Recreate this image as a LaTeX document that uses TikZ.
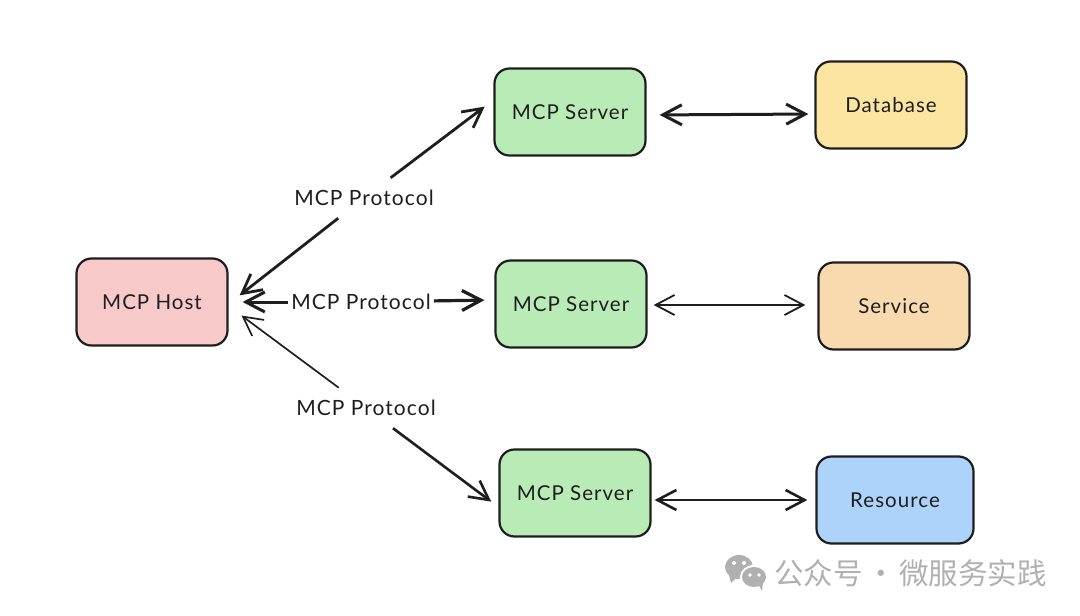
\documentclass[tikz,border=0pt]{standalone}
\usepackage{fontspec}
\setmainfont{Lato}[LetterSpace=5]
\newfontfamily\cjk{Noto Sans CJK SC}
\usetikzlibrary{arrows.meta}
\definecolor{inkblack}{HTML}{1E1E1E}
\definecolor{hostred}{HTML}{F8C9C9}
\definecolor{servergreen}{HTML}{B9EBB7}
\definecolor{dbyellow}{HTML}{FBE5A0}
\definecolor{svcorange}{HTML}{F9D9AE}
\definecolor{resblue}{HTML}{ADD3FB}
\definecolor{markgray}{HTML}{B0B0B0}
\tikzset{
	box/.style={draw=inkblack, line width=2.2pt, rounded corners=15pt, minimum width=151pt, minimum height=87pt, font=\fontsize{20.5}{24}\selectfont, text=inkblack},
	proto/.style={inner xsep=3pt, minimum height=40pt, font=\fontsize{21}{24}\selectfont, text=inkblack},
	link/.style={draw=inkblack, line width=#1, {Straight Barb[length=19pt,width=20pt]}-{Straight Barb[length=19pt,width=20pt]}},
	halflink/.style={draw=inkblack, line width=#1, -{Straight Barb[length=19pt,width=20pt]}}
}
\begin{document}
\begin{tikzpicture}[x=1pt, y=-1pt]
	\useasboundingbox (0,0) rectangle (1080,616);

	\node[box, fill=hostred] (host) at (152,302) {MCP Host};
	\node[box, fill=servergreen] (server1) at (570,112) {MCP Server};
	\node[box, fill=servergreen] (server2) at (571,304) {MCP Server};
	\node[box, fill=servergreen] (server3) at (575,493) {MCP Server};
	\node[box, fill=dbyellow] (database) at (891,105) {Database};
	\node[box, fill=svcorange] (service) at (894,306) {Service};
	\node[box, fill=resblue, minimum width=157pt] (resource) at (895,500) {Resource};

	\node[proto] (proto1) at (364,198) {MCP Protocol};
	\node[proto] (proto2) at (361,302) {MCP Protocol};
	\node[proto] (proto3) at (366,408) {MCP Protocol};

	\draw[halflink=2.8pt, shorten >=14pt] (proto1) -- ([yshift=-2pt]host.east);
	\draw[halflink=2.8pt, shorten >=11pt] (proto1) -- ([yshift=12pt]server1.west);
	\draw[halflink=3pt, shorten >=14pt] (proto2) -- (host.east);
	\draw[halflink=3.2pt, shorten >=10pt] (proto2) -- ([yshift=4pt]server2.west);
	\draw[halflink=1.7pt, shorten >=16pt] (proto3) -- ([yshift=-4pt]host.east);
	\draw[halflink=2.6pt, shorten >=9pt] (proto3) -- ([yshift=-14pt]server3.west);

	\draw[link=3pt, shorten <=13pt, shorten >=6pt] ([yshift=-3pt]server1.east) -- ([yshift=-9pt]database.west);
	\draw[link=1.8pt, shorten <=6pt, shorten >=12pt] ([yshift=-1pt]server2.east) -- ([yshift=1pt]service.west);
	\draw[link=2.6pt, shorten <=3pt, shorten >=8pt] ([yshift=-7pt]server3.east) -- (resource.west);

	% watermark
	\fill[markgray] (739,567) ellipse (14pt and 12pt);
	\fill[markgray] (729,575) -- (731,583) -- (737,577) -- cycle;
	\fill[white] (754,577) ellipse (14pt and 12pt);
	\fill[markgray] (754,577) ellipse (12pt and 10pt);
	\fill[markgray] (758,584) -- (762,591) -- (763,582) -- cycle;
	\foreach \ex/\ey in {734/563, 744/563} \fill[white] (\ex,\ey) circle (2pt);
	\foreach \ex/\ey in {750/575, 759/575} \fill[white] (\ex,\ey) circle (1.8pt);
	\node[text=markgray, inner sep=0pt, anchor=west] (mark) at (774,573) {\cjk\fontsize{29.5}{32}\selectfont 公众号\hspace{3.5pt}·\hspace{3.5pt}微服务实践};
\end{tikzpicture}
\end{document}
